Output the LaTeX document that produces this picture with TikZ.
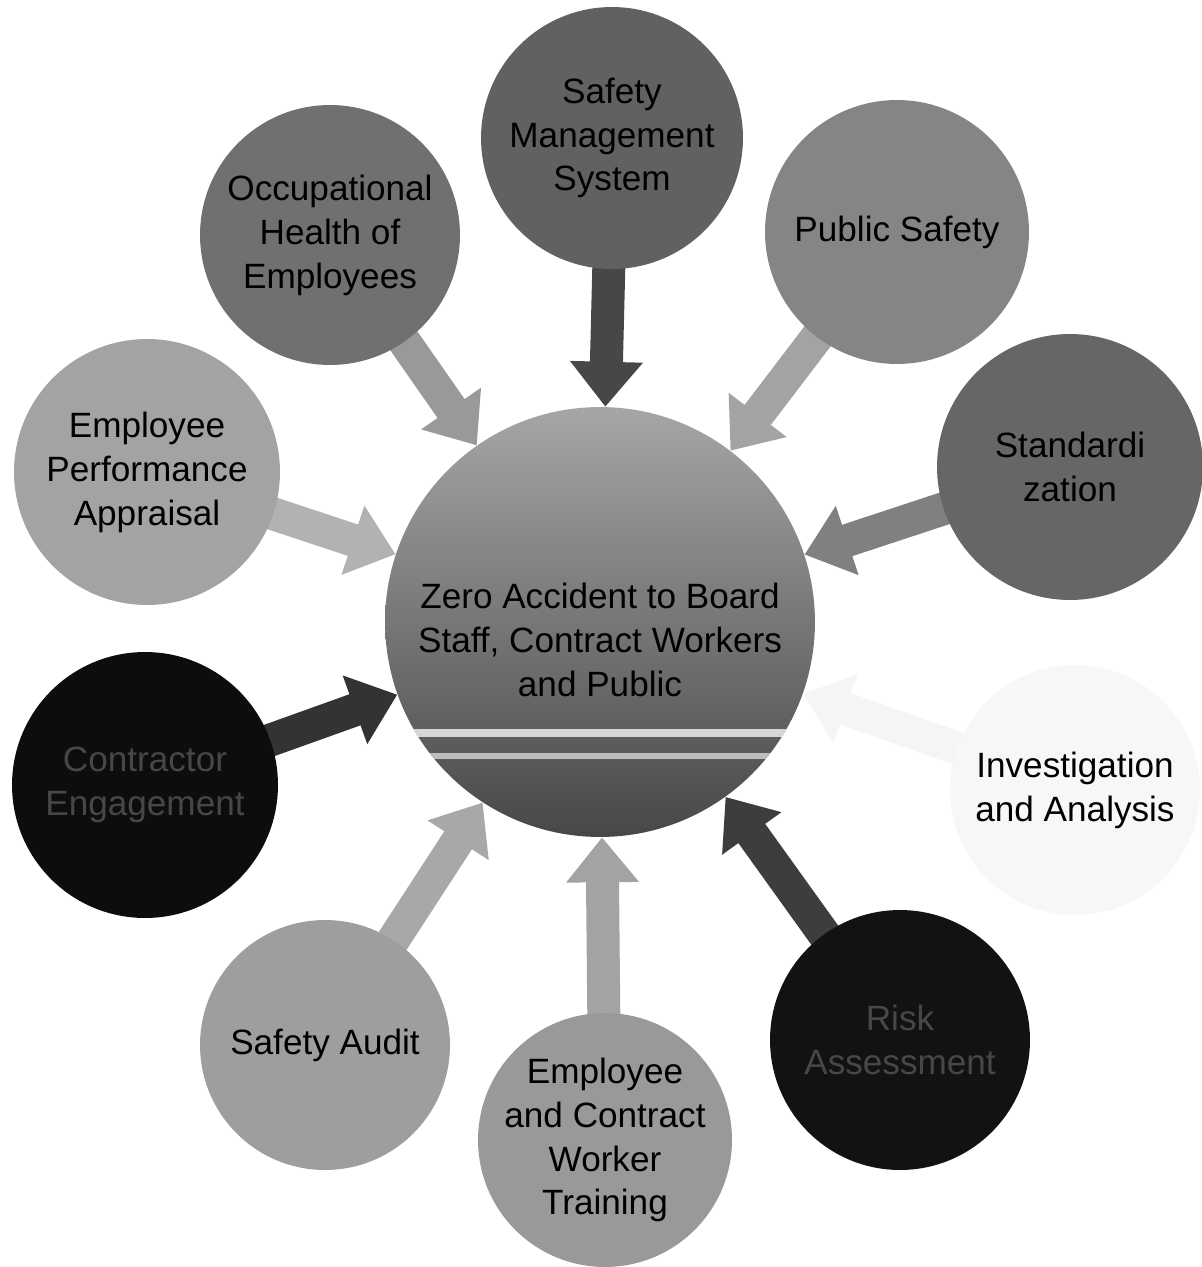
\documentclass[tikz,border=0pt]{standalone}
\usepackage{fontspec}
\setmainfont{Liberation Sans}
\usetikzlibrary{arrows.meta,backgrounds}

\begin{document}
\begin{tikzpicture}[x=0.02cm,y=-0.02cm,
  bubble/.style={circle,inner sep=-1cm,minimum size=5.2cm,align=center,
    font=\fontsize{20}{25}\selectfont},
  bigarrow/.style={line width=0.66cm,shorten <=-0.5cm,
    -{Triangle[width=1.4cm,length=0.9cm]}}]
\useasboundingbox (0,0) rectangle (1201,1267);

\node[circle,inner sep=0pt,minimum size=8.6cm,top color=black!35,bottom color=black!72] (hub) at (600,622) {};
\begin{scope}
\clip (hub.center) circle [radius=4.3cm];
\fill[white,opacity=0.75] (380,729) rectangle (820,737);
\fill[white,opacity=0.6] (380,753) rectangle (820,759);
\end{scope}
\node[align=center,font=\fontsize{20}{25}\selectfont] (hubtext) at (600,640)
  {Zero Accident to Board\\Staff, Contract Workers\\and Public};

\node[bubble,minimum size=5.24cm,fill=black!62] (sms) at (612,138) {Safety\\Management\\System};
\node[bubble,fill=black!56] (occ) at (330,235) {Occupational\\Health of\\Employees};
\node[bubble,minimum size=5.28cm,fill=black!48] (pub) at (897,232) {Public Safety};
\node[bubble,minimum size=5.32cm,fill=black!36] (perf) at (147,472) {Employee\\Performance\\Appraisal};
\node[bubble,minimum size=5.32cm,fill=black!60] (std) at (1070,467) {Standardi\\zation};
\node[bubble,minimum size=5.32cm,fill=black!95,text=black!72] (con) at (145,785) {Contractor\\Engagement};
\node[bubble,minimum size=5cm,fill=black!3] (inv) at (1075,790) {Investigation\\and Analysis};
\node[bubble,fill=black!93,text=black!72] (risk) at (900,1040) {Risk\\Assessment};
\node[bubble,minimum size=5cm,fill=black!38] (audit) at (325,1045) {Safety Audit};
\node[bubble,minimum size=5.08cm,fill=black!40] (train) at (605,1140) {Employee\\and Contract\\Worker\\Training};

\begin{pgfonlayer}{background}
\draw[bigarrow,black!72] (sms) -- (hub);
\draw[bigarrow,black!40] (occ) -- (hub);
\draw[bigarrow,black!36] (pub) -- (hub);
\draw[bigarrow,black!30] (perf) -- (hub);
\draw[bigarrow,black!50] (std) -- (hub);
\draw[bigarrow,black!80] (con) -- (hub);
\draw[bigarrow,black!4] (inv) -- (hub);
\draw[bigarrow,black!76] (risk) -- (hub);
\draw[bigarrow,black!34] (audit) -- (hub);
\draw[bigarrow,black!36] (train) -- (hub);
\end{pgfonlayer}
\end{tikzpicture}
\end{document}
